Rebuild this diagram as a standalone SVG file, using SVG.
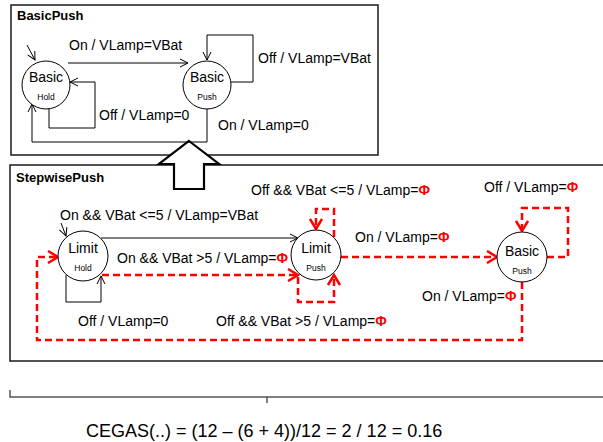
<svg xmlns="http://www.w3.org/2000/svg" width="603" height="442" viewBox="0 0 603 442">
<style>
text{font-family:"Liberation Sans",Arial,sans-serif;fill:#000}
.t{font-size:14px}
.ttl{font-size:13px;font-weight:bold}
.big{font-size:14px}
.sm{font-size:8.5px}
.phi{fill:#ff0000;font-weight:bold}
.box{fill:none;stroke:#1a1a1a;stroke-width:1.5}
.st{fill:#fff;stroke:#000;stroke-width:1}
.c{fill:none;stroke:#000;stroke-width:1}
.r{fill:none;stroke:#ff0000;stroke-width:2.5;stroke-dasharray:7,4}
</style>
<defs>
<marker id="ab" markerWidth="10" markerHeight="10" refX="9" refY="5" orient="auto" markerUnits="userSpaceOnUse"><path d="M1,1 L9,5 L1,9" fill="none" stroke="#000" stroke-width="1"/></marker>
<marker id="ar" markerWidth="14" markerHeight="14" refX="12" refY="7" orient="auto" markerUnits="userSpaceOnUse"><path d="M2,1 L12,7 L2,13" fill="none" stroke="#ff0000" stroke-width="2.5"/></marker>
</defs>
<rect width="603" height="442" fill="#fff"/>
<g id="basicpush-frame">
<rect class="box" x="11" y="5" width="367" height="150"/>
<text class="ttl" x="17" y="20">BasicPush</text>
</g>
<g id="stepwisepush-frame">
<path class="box" d="M610,165 L10,165 L10,361 L610,361"/>
<text class="ttl" x="16" y="182">StepwisePush</text>
</g>
<g id="refine-arrow">
<polygon points="189,141 219,164 204,164 204,189 174,189 174,164 159,164" fill="#fff" stroke="#000" stroke-width="2.2" stroke-linejoin="miter"/>
</g>
<g id="connectors">
<path class="c" d="M27,45 L35,60" marker-end="url(#ab)"/>
<path class="c" d="M68,63 L188,63" marker-end="url(#ab)"/>
<path class="c" d="M231,82 L253,82 L253,35 L207,35 L207,60" marker-end="url(#ab)"/>
<path class="c" d="M49,108 L49,128 L95,128 L95,82 L70,82" marker-end="url(#ab)"/>
<path class="c" d="M207,109 L207,142 L32,142 L32,104" marker-end="url(#ab)"/>
<path class="c" d="M61,223 L66,236" marker-end="url(#ab)"/>
<path class="c" d="M101,238 L298,238" marker-end="url(#ab)"/>
<path class="c" d="M66,275 L66,302 L101,302 L101,276" marker-end="url(#ab)"/>
<path class="r" d="M102,275 L298,275" marker-end="url(#ar)"/>
<path class="r" d="M298,277 L298,302 L334,302 L334,275" marker-end="url(#ar)"/>
<path class="r" d="M334,237 L334,209 L316,209 L316,229" marker-end="url(#ar)"/>
<path class="r" d="M341,257 L497,257" marker-end="url(#ar)"/>
<path class="r" d="M547,257 L568,257 L568,208 L522,208 L522,231" marker-end="url(#ar)"/>
<path class="r" d="M522,282 L522,340 L37,340 L37,257 L58,257" marker-end="url(#ar)"/>
</g>
<g id="labels">
<text class="t" x="69" y="50">On / VLamp=VBat</text>
<text class="t" x="258" y="63">Off / VLamp=VBat</text>
<text class="t" x="99" y="120">Off / VLamp=0</text>
<text class="t" x="218" y="130">On / VLamp=0</text>
<text class="t" x="60" y="220">On &amp;&amp; VBat &lt;=5 / VLamp=VBat</text>
<text class="t" x="251" y="195">Off &amp;&amp; VBat &lt;=5 / VLamp=<tspan class="phi">Φ</tspan></text>
<text class="t" x="484" y="192">Off / VLamp=<tspan class="phi">Φ</tspan></text>
<text class="t" x="117" y="263">On &amp;&amp; VBat &gt;5 / VLamp=<tspan class="phi">Φ</tspan></text>
<text class="t" x="355" y="242">On / VLamp=<tspan class="phi">Φ</tspan></text>
<text class="t" x="422" y="301">On / VLamp=<tspan class="phi">Φ</tspan></text>
<text class="t" x="78" y="326">Off / VLamp=0</text>
<text class="t" x="216" y="326">Off &amp;&amp; VBat &gt;5 / VLamp=<tspan class="phi">Φ</tspan></text>
</g>
<g id="basic-hold">
<circle class="st" cx="46" cy="85" r="24"/>
<text class="big" x="46" y="82" text-anchor="middle">Basic</text>
<text class="sm" x="46" y="100" text-anchor="middle">Hold</text>
</g>
<g id="basic-push">
<circle class="st" cx="207" cy="85" r="24"/>
<text class="big" x="207" y="82" text-anchor="middle">Basic</text>
<text class="sm" x="207" y="100" text-anchor="middle">Push</text>
</g>
<g id="limit-hold">
<circle class="st" cx="83" cy="256" r="25"/>
<text class="big" x="83" y="253" text-anchor="middle">Limit</text>
<text class="sm" x="83" y="271" text-anchor="middle">Hold</text>
</g>
<g id="limit-push">
<circle class="st" cx="316" cy="255" r="25"/>
<text class="big" x="316" y="253" text-anchor="middle">Limit</text>
<text class="sm" x="316" y="271" text-anchor="middle">Push</text>
</g>
<g id="basic-push-2">
<circle class="st" cx="522" cy="257" r="25"/>
<text class="big" x="522" y="256" text-anchor="middle">Basic</text>
<text class="sm" x="522" y="274" text-anchor="middle">Push</text>
</g>
<g id="bracket">
<path d="M10,390 L10,397 L610,397 M267,397 L267,403" fill="none" stroke="#555" stroke-width="1.5"/>
</g>
<g id="formula">
<text x="86" y="437" style="font-size:18px">CEGAS(..) = (12 – (6 + 4))/12 = 2 / 12 = 0.16</text>
</g>
</svg>
